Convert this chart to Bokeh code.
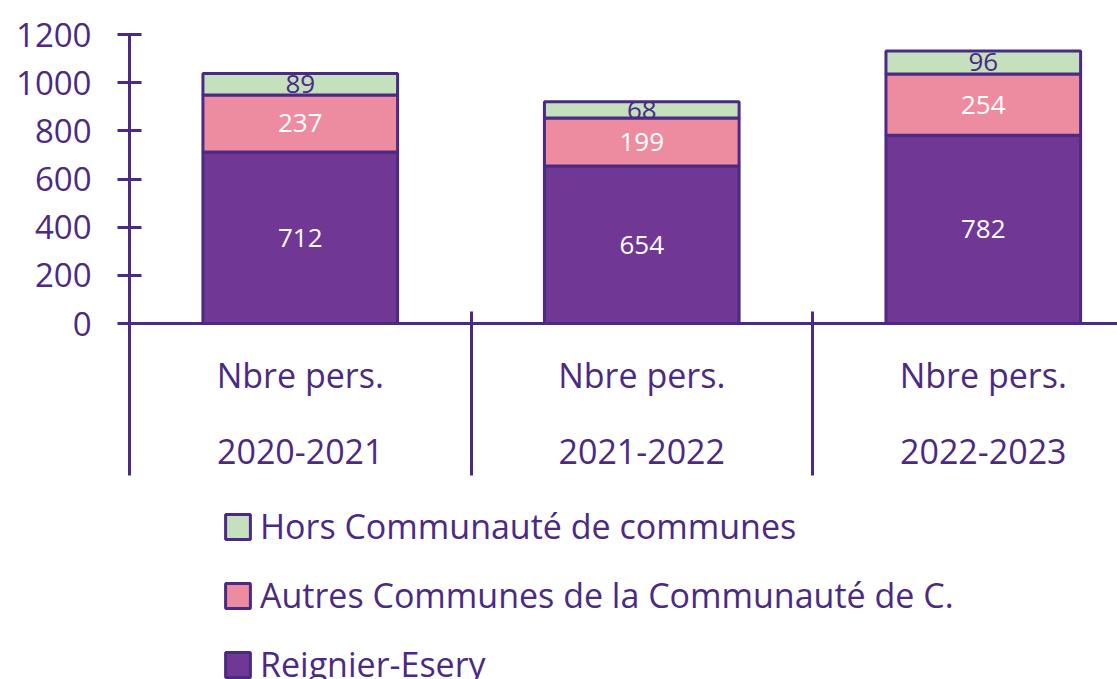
import numpy as np
from bokeh.plotting import figure
from bokeh.layouts import column
from bokeh.models import (Range1d, FixedTicker, LinearAxis, Legend, LegendItem,
                          ColumnDataSource)
from bokeh.embed import file_html
from bokeh.resources import INLINE
from bokeh.core.properties import value

# ---- data ----
years = ["2020-2021", "2021-2022", "2022-2023"]
row_label = "Nbre pers."
series_names = ["Reignier-Esery",
                "Autres Communes de la Communauté de C.",
                "Hors Communauté de communes"]
reignier = [712, 654, 782]
autres = [237, 199, 254]
hors = [89, 68, 96]
y_ticks = [0, 200, 400, 600, 800, 1000, 1200]

# ---- style ----
DARK = "#4B2A83"
COLORS = ["#713795", "#ED8BA1", "#C4E0BC"]
FONT = "Open Sans"

n = len(years)
xc = [i + 0.5 for i in range(n)]
bounds = [float(i) for i in range(n + 1)]

source = ColumnDataSource(dict(x=xc, reignier=reignier, autres=autres, hors=hors))

p = figure(width=1117, height=480, output_backend="svg", toolbar_location=None,
           x_range=Range1d(0, 2.893), y_range=Range1d(0, 1200),
           min_border_left=129, min_border_top=34, min_border_right=0,
           min_border_bottom=157)
p.outline_line_color = None
p.xgrid.visible = False
p.ygrid.visible = False
p.background_fill_color = "white"

renderers = p.vbar_stack(["reignier", "autres", "hors"], x="x", width=0.57,
                         source=source, fill_color=COLORS, line_color=DARK,
                         line_width=3)

# data labels
lab_x, lab_y, lab_t, lab_c = [], [], [], []
label_colors = ["white", "white", DARK]
for i in range(n):
    base = 0
    for vals, col in zip([reignier, autres, hors], label_colors):
        v = vals[i]
        lab_x.append(xc[i])
        lab_y.append(base + v / 2)
        lab_t.append(str(v))
        lab_c.append(col)
        base += v
lsrc = ColumnDataSource(dict(x=lab_x, y=lab_y, t=lab_t, c=lab_c))
p.text(x="x", y="y", text="t", text_color="c", source=lsrc,
       text_font=value(FONT), text_font_size="26px",
       text_align="center", text_baseline="middle")

# y axis
ya = p.yaxis[0]
ya.ticker = FixedTicker(ticks=y_ticks)
ya.axis_line_color = DARK
ya.axis_line_width = 3
ya.major_tick_line_color = DARK
ya.major_tick_line_width = 3
ya.major_tick_in = 12
ya.major_tick_out = 12
ya.minor_tick_line_color = None
ya.major_label_text_color = DARK
ya.major_label_text_font = FONT
ya.major_label_text_font_size = "33px"
ya.major_label_standoff = 26

# x axis (row label + divider ticks)
xa = p.xaxis[0]
xa.ticker = FixedTicker(ticks=xc, minor_ticks=bounds)
xa.major_label_overrides = {x: row_label for x in xc}
xa.axis_line_color = DARK
xa.axis_line_width = 3
xa.major_tick_line_color = None
xa.major_tick_in = 0
xa.major_tick_out = 0
xa.minor_tick_line_color = DARK
xa.minor_tick_line_width = 3
xa.minor_tick_in = 12
xa.minor_tick_out = 152
xa.major_label_text_color = DARK
xa.major_label_text_font = FONT
xa.major_label_text_font_size = "34px"
xa.major_label_standoff = -124

# second x axis: years
xa2 = LinearAxis(ticker=FixedTicker(ticks=xc),
                 major_label_overrides={x: y for x, y in zip(xc, years)})
xa2.axis_line_color = None
xa2.major_tick_line_color = None
xa2.minor_tick_line_color = None
xa2.major_tick_in = 0
xa2.major_tick_out = 0
xa2.major_label_text_color = DARK
xa2.major_label_text_font = FONT
xa2.major_label_text_font_size = "34px"
xa2.major_label_standoff = 38
p.add_layout(xa2, "below")

# legend panel (separate figure below the chart; helper glyphs hold no visible data)
q = figure(width=1117, height=199, output_backend="svg", toolbar_location=None,
           x_axis_type=None, y_axis_type=None, min_border=0,
           x_range=Range1d(0, 1), y_range=Range1d(0, 1))
q.outline_line_color = None
q.xgrid.visible = False
q.ygrid.visible = False
empty = np.array([np.nan])
legend_renderers = [q.vbar(x=empty, top=empty, width=0.5, fill_color=c,
                           line_color=DARK, line_width=3) for c in COLORS]
items = [LegendItem(label=series_names[k], renderers=[legend_renderers[k]])
         for k in (2, 1, 0)]
legend = Legend(items=items, location=(93, -8), orientation="vertical",
                padding=0, margin=0, spacing=23, label_height=44,
                glyph_width=31, glyph_height=31, label_standoff=7,
                label_text_font=FONT, label_text_font_size="34px",
                label_text_color=DARK, border_line_color=None,
                background_fill_alpha=0)
q.add_layout(legend, "center")

layout = column(p, q, spacing=0)
open("out.html", "w").write(file_html(layout, INLINE))
